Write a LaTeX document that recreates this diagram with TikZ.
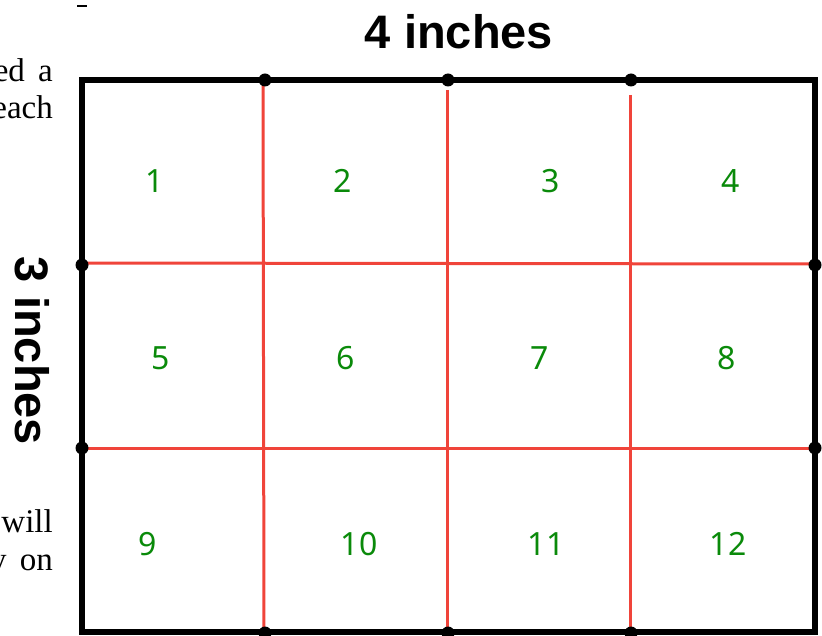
\documentclass[tikz,border=0pt]{standalone}
\usepackage{fontspec}
\usepackage{tikz}
\newfontfamily\numfont{Noto Sans}
\newfontfamily\dimfont{Liberation Sans}[BoldFont={Liberation Sans Bold}]
\newfontfamily\pagefont{Liberation Serif}
\definecolor{cutred}{RGB}{240,68,58}
\definecolor{cellgreen}{RGB}{10,138,10}

\begin{document}
\begin{tikzpicture}
[
    x = 1pt, y = -1pt,
    frame/.style = {line width = 6pt},
    cut/.style = {draw = cutred, line width = 3pt},
    dot/.style = {circle, fill = black, inner sep = 0pt, minimum size = 13pt},
    cell/.style = {text = cellgreen, font = \numfont\fontsize{32}{32}\selectfont},
    dim/.style = {font = \dimfont\bfseries\fontsize{47}{47}\selectfont},
    page/.style = {font = \pagefont\fontsize{33}{33}\selectfont, anchor = base east, inner sep = 0pt},
]
    \useasboundingbox (0,0) rectangle (822,636);

    % scraps of the page text
    \node[page] (p1) at (53,82) {ed\hspace{0.4em}a};
    \node[page] (p2) at (53,119) {each};
    \node[page] (p3) at (53,532) {will};
    \node[page] (p4) at (53,570) {y\hspace{0.4em}on};
    \coordinate (m1) at (77,6);
    \coordinate (m2) at (87,6);
    \draw[line width = 2pt] (m1) -- (m2);

    % sides
    \node[dim] (width) at (459,32) {4 inches};
    \node[dim, rotate = -90] (height) at (32,351) {3 inches};

    % red cuts
    \coordinate (s1) at (263,80);
    \coordinate (s2) at (447,90);
    \coordinate (s3) at (630,95);
    \coordinate (e1) at (264,636);
    \coordinate (e2) at (447,636);
    \coordinate (e3) at (630,636);
    \coordinate (l1) at (82,263);
    \coordinate (l2) at (82,448);
    \coordinate (r1) at (815,264);
    \coordinate (r2) at (815,448);
    \draw[cut] (s1) -- (e1);
    \draw[cut] (s2) -- (e2);
    \draw[cut] (s3) -- (e3);
    \draw[cut] (l1) -- (r1);
    \draw[cut] (l2) -- (r2);

    % the sheet
    \coordinate (tl) at (82,80);
    \coordinate (br) at (815,632);
    \draw[frame] (tl) rectangle (br);

    % marks
    \node[dot] (t1) at (265,80) {};
    \node[dot] (t2) at (448,80) {};
    \node[dot] (t3) at (631,80) {};
    \node[dot] (b1) at (265,633) {};
    \node[dot] (b2) at (448,633) {};
    \node[dot] (b3) at (631,633) {};
    \node[dot] (d1) at (82,265) {};
    \node[dot] (d2) at (82,448) {};
    \node[dot] (d3) at (815,265) {};
    \node[dot] (d4) at (815,448) {};

    % pieces
    \node[cell] (c1) at (155,181) {1};
    \node[cell] (c2) at (343,181) {2};
    \node[cell] (c3) at (551,181) {3};
    \node[cell] (c4) at (731,181) {4};
    \node[cell] (c5) at (161,358) {5};
    \node[cell] (c6) at (346,358) {6};
    \node[cell] (c7) at (540,358) {7};
    \node[cell] (c8) at (727,358) {8};
    \node[cell] (c9) at (148,544) {9};
    \node[cell] (c10) at (359,544) {10};
    \node[cell] (c11) at (546,544) {11};
    \node[cell] (c12) at (728,544) {12};
\end{tikzpicture}
\end{document}
